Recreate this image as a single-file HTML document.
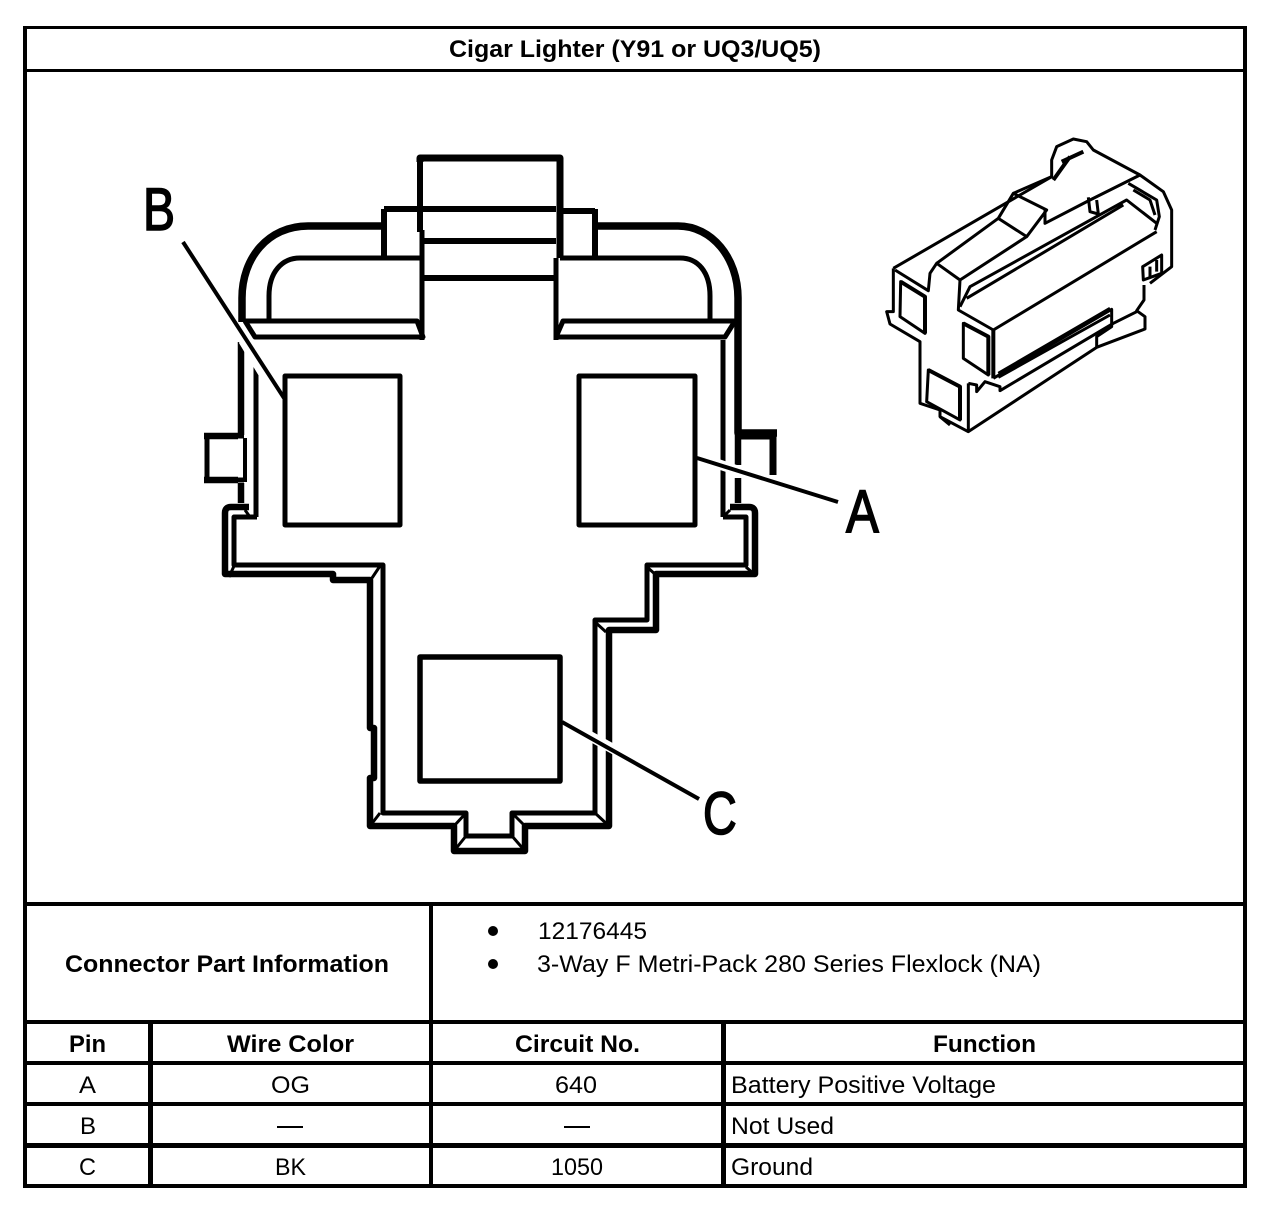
<!DOCTYPE html>
<html><head><meta charset="utf-8"><style>
html,body{margin:0;padding:0;background:#fff}
svg{display:block}
text{font-family:"Liberation Sans",Arial,sans-serif;fill:#000}
.b{font-weight:bold}
</style></head><body>
<svg xmlns="http://www.w3.org/2000/svg" width="1280" height="1212" viewBox="0 0 1280 1212">
<rect width="1280" height="1212" fill="#fff"/>
<!-- frame and table -->
<g fill="#000">
<rect x="23" y="26" width="1224" height="3"/>
<rect x="23" y="69" width="1224" height="3"/>
<rect x="23" y="26" width="4" height="1162"/>
<rect x="1243" y="26" width="4" height="1162"/>
<rect x="23" y="902" width="1224" height="4"/>
<rect x="23" y="1020" width="1224" height="4"/>
<rect x="23" y="1061" width="1224" height="4"/>
<rect x="23" y="1102" width="1224" height="4"/>
<rect x="23" y="1143" width="1224" height="5"/>
<rect x="23" y="1184" width="1224" height="4"/>
<rect x="148" y="1020" width="5" height="168"/>
<rect x="429" y="902" width="4" height="286"/>
<rect x="721" y="1020" width="5" height="168"/>
<ellipse cx="493" cy="931" rx="5" ry="5"/>
<ellipse cx="493" cy="964" rx="5" ry="5"/>
<rect x="277" y="1126" width="26" height="2"/>
<rect x="564" y="1126" width="26" height="2"/>
</g>
<g font-size="24">
<text class="b" x="449" y="57" textLength="372" lengthAdjust="spacingAndGlyphs">Cigar Lighter (Y91 or UQ3/UQ5)</text>
<text class="b" x="65" y="972" textLength="324" lengthAdjust="spacingAndGlyphs">Connector Part Information</text>
<text x="538" y="939" textLength="109" lengthAdjust="spacingAndGlyphs">12176445</text>
<text x="537" y="972" textLength="504" lengthAdjust="spacingAndGlyphs">3-Way F Metri-Pack 280 Series Flexlock (NA)</text>
<text class="b" x="69" y="1052" textLength="37" lengthAdjust="spacingAndGlyphs">Pin</text>
<text class="b" x="227" y="1052" textLength="127" lengthAdjust="spacingAndGlyphs">Wire Color</text>
<text class="b" x="515" y="1052" textLength="125" lengthAdjust="spacingAndGlyphs">Circuit No.</text>
<text class="b" x="933" y="1052" textLength="103" lengthAdjust="spacingAndGlyphs">Function</text>
<text x="79" y="1093" textLength="17" lengthAdjust="spacingAndGlyphs">A</text>
<text x="271" y="1093" textLength="39" lengthAdjust="spacingAndGlyphs">OG</text>
<text x="555" y="1093" textLength="42" lengthAdjust="spacingAndGlyphs">640</text>
<text x="731" y="1093" textLength="265" lengthAdjust="spacingAndGlyphs">Battery Positive Voltage</text>
<text x="80" y="1134" textLength="16" lengthAdjust="spacingAndGlyphs">B</text>
<text x="731" y="1134" textLength="103" lengthAdjust="spacingAndGlyphs">Not Used</text>
<text x="79" y="1175" textLength="17" lengthAdjust="spacingAndGlyphs">C</text>
<text x="275" y="1175" textLength="31" lengthAdjust="spacingAndGlyphs">BK</text>
<text x="551" y="1175" textLength="52" lengthAdjust="spacingAndGlyphs">1050</text>
<text x="731" y="1175" textLength="82" lengthAdjust="spacingAndGlyphs">Ground</text>
</g>
<!-- main connector face -->
<g fill="none" stroke="#000" stroke-linejoin="round" stroke-linecap="butt">
<path stroke-width="7" d="M420 162V158H560V258"/>
<path stroke-width="6" d="M420 158V232"/>
<path stroke-width="5" d="M422 230V340M556 258V340"/>
<path stroke-width="6" d="M384 209H423M563 211H595"/>
<path stroke-width="6" d="M384 209V258M595 209V258"/>
<path stroke-width="6" d="M423 209H556"/>
<path stroke-width="6" d="M423 241H556M423 278H556"/>
<!-- outer arc -->
<path stroke-width="7.5" d="M381 226H308C268 226 242 258 242 298V322M597 226H678C712 226 738 258 738 298V433H777"/>
<path stroke-width="5" d="M420 258H300C282 258 269 272 269 296V320M560 258H680C698 258 710 272 710 296V320"/>
<!-- bands -->
<path stroke-width="5" d="M245 321H417L423 337H255L245 321"/>
<path stroke-width="5" d="M735 321H563L556 337H725L735 321"/>
<!-- side walls -->
<path stroke-width="6.5" d="M241 342V435M241 483V503"/>
<path stroke-width="5" d="M256 365V517M723 340V517"/>
<path stroke-width="6.5" d="M738 433V465M738 478V503"/>
<!-- left tab -->
<path stroke-width="5" d="M244 436H207V480H244"/>
<path stroke-width="4" d="M245 438V482"/>
<path stroke-width="6.5" d="M238 436H204M238 480H204"/>
<!-- right tab -->
<path stroke-width="7" d="M738 436H773V475"/>
<!-- steps -->
<path stroke-width="6.5" d="M249 507H231Q225 507 225 513V574H333V580H370V728H374V778H370V826H454V851H525V826H609V630H656V574H755V513Q755 507 749 507H730"/>
<path stroke-width="5" d="M257 517H234V565H383V813H466V836H512V813H595V620H647V565H746V517H723"/>
<!-- corner chamfers -->
<path stroke-width="3" d="M229 577L234 566M245 510L250 517M380 566L372 578M370 826L380 813M454 851L466 836M525 851L512 836M466 813L454 826M512 813L525 826M595 813L609 826M595 622L606 632M647 567L656 575M746 567L755 575M730 510L723 517"/>
<!-- pin rects -->
<path stroke-width="5" d="M285 376H400V525H285Z"/>
<path stroke-width="5" d="M579 376H695V525H579Z"/>
<path stroke-width="5.5" d="M420 657H560V781H420Z"/>
</g>
<!-- white gaps beneath leader lines -->
<g fill="none" stroke="#fff" stroke-width="10">
<path d="M243 340L266 378"/>
<path d="M712 462L748 474"/>
<path d="M588 735L615 750"/>
</g>
<g fill="none" stroke="#000" stroke-width="4">
<path d="M183 242L284 398"/>
<path d="M697 458L838 502"/>
<path d="M562 722L699 799"/>
</g>
<!-- callouts -->
<g font-size="60" stroke="#000" stroke-width="1.6">
<text transform="translate(143 230) scale(.8 1)">B</text>
<text transform="translate(846 532) scale(.82 1)">A</text>
<text transform="translate(703 834) scale(.78 1)">C</text>
</g>
<!-- isometric connector -->
<g transform="translate(870 120) scale(.33333)" fill="none" stroke="#000" stroke-width="9" stroke-linejoin="round">
<path d="M70 445L545 170L545 120L560 80L610 57L650 65L670 90L810 165L880 215L905 270V440L840 490"/>
<path d="M822 495V540L800 572L825 590V627L680 682L295 935L210 890V870L150 850V665L60 612L50 575H70V445"/>
<path d="M75 450L175 512L180 460L200 430L270 480L265 570L370 630L860 335"/>
<path stroke-width="12" d="M370 630V775"/>
<path d="M370 775L725 568V620L680 650V682"/>
<path d="M385 760L720 565M385 772L720 585"/>
<path d="M200 430L385 295L430 220L530 270L470 350L385 295M270 480L470 350"/>
<path d="M430 220L545 170M525 270V310L660 240L780 180L810 165"/>
<path d="M270 560L300 500L770 240L860 310M290 535L760 255"/>
<path d="M775 190L860 240L868 290L855 330M790 210L840 240L855 285"/>
<path d="M655 232L660 275L685 282L680 240"/>
<path d="M92 485L165 530V640L90 590Z"/>
<path d="M280 610L355 650V765L280 715Z"/>
<path d="M175 750L270 800V900L170 845Z"/>
<path stroke-width="12" d="M175 750L270 800V900"/>
<path stroke-width="12" d="M92 485L165 530V640"/>
<path stroke-width="12" d="M280 610L355 650V765"/>
<path d="M295 790V935M295 790L320 795V815L345 785L390 800V812L730 610L800 575"/>
<path d="M818 440L875 405V460L820 480Z M840 440V470M860 420V455"/>
<path stroke-width="12" d="M550 180L600 110M575 125L640 95"/>
<path d="M210 890L240 915"/>
</g>
</svg>
</body></html>
